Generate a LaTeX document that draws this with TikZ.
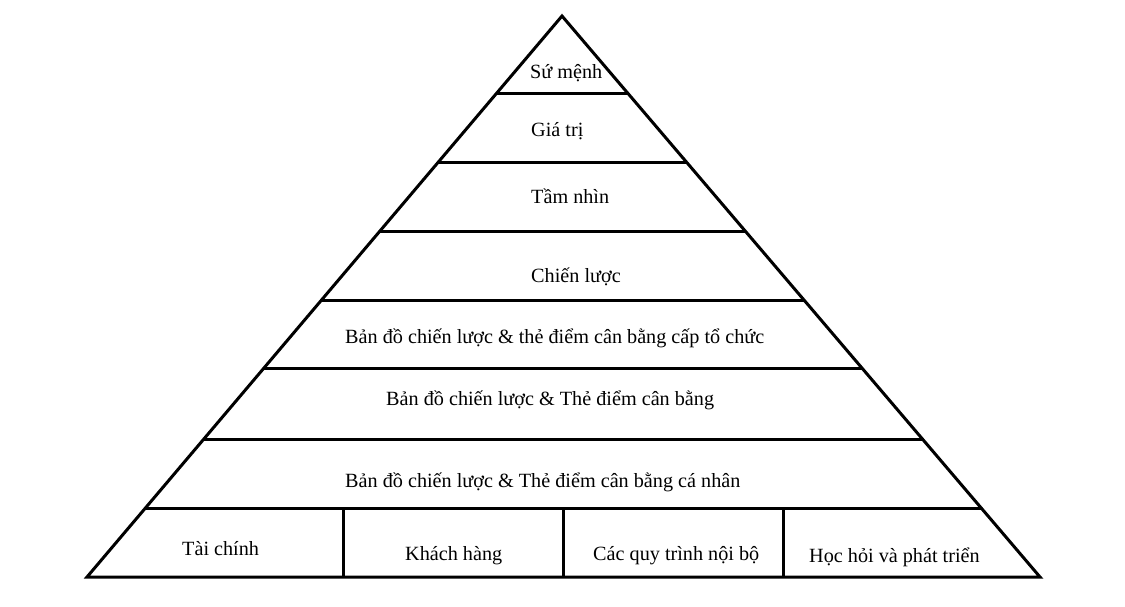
\documentclass[tikz,border=0pt]{standalone}
\usepackage{fontspec}
\setmainfont{Liberation Serif}
\usetikzlibrary{calc}
\tikzset{
  frame/.style={line width=3pt, line join=miter, draw=black},
  lbl/.style={inner sep=0pt, anchor=base west, font=\fontsize{20.2}{22}\selectfont, text=black}
}
\begin{document}
\begin{tikzpicture}[x=1pt,y=-1pt]
\useasboundingbox (0,0) rectangle (1125,606);
\coordinate (A) at (562,16);
\coordinate (BL) at (87,577);
\coordinate (BR) at (1040,577);
\draw[frame] (A) -- (BL) -- (BR) -- cycle;
% horizontal bands
\foreach \t/\n in {0.139/1,0.262/2,0.385/3,0.508/4,0.629/5,0.754/6,0.877/7}{
  \coordinate (L\n) at ($(A)!\t!(BL)$);
  \coordinate (R\n) at ($(A)!\t!(BR)$);
  \draw[frame] (L\n) -- (R\n);
}
% dividers
\coordinate (D1t) at (343,508); \coordinate (D1b) at (343,577);
\coordinate (D2t) at (563,508); \coordinate (D2b) at (563,577);
\coordinate (D3t) at (783,508); \coordinate (D3b) at (783,577);
\draw[frame] (D1t) -- (D1b);
\draw[frame] (D2t) -- (D2b);
\draw[frame] (D3t) -- (D3b);
% labels
\node[lbl] (t1) at (530,78) {Sứ mệnh};
\node[lbl] (t2) at (531,136) {Giá trị};
\node[lbl] (t3) at (531,203) {Tầm nhìn};
\node[lbl] (t4) at (531,282) {Chiến lược};
\node[lbl] (t5) at (345,343) {Bản đồ chiến lược \& thẻ điểm cân bằng cấp tổ chức};
\node[lbl] (t6) at (386,405) {Bản đồ chiến lược \& Thẻ điểm cân bằng};
\node[lbl] (t7) at (345,487) {Bản đồ chiến lược \& Thẻ điểm cân bằng cá nhân};
\node[lbl] (b1) at (182,555) {Tài chính};
\node[lbl] (b2) at (405,560) {Khách hàng};
\node[lbl] (b3) at (593,560) {Các quy trình nội bộ};
\node[lbl] (b4) at (809,562) {Học hỏi và phát triển};
\end{tikzpicture}
\end{document}
